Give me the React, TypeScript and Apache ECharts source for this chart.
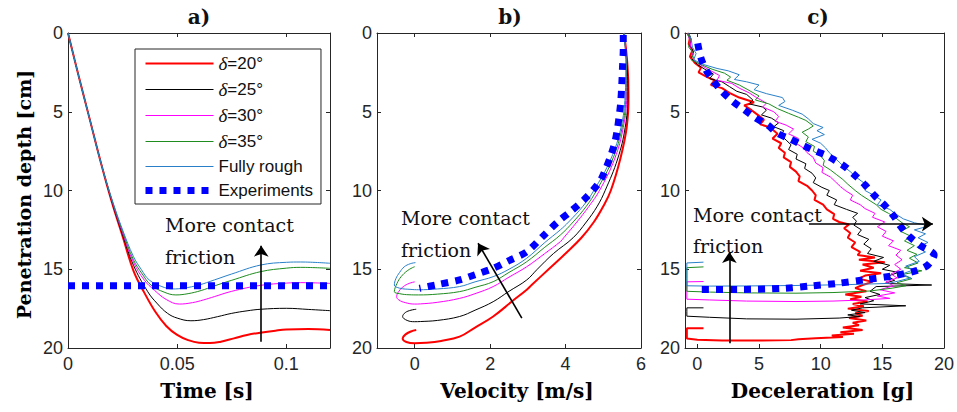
import React, { useEffect, useRef } from 'react';
import * as echarts from 'echarts';

// ---------- Series names ----------
const seriesNames = ['δ=20°', 'δ=25°', 'δ=30°', 'δ=35°', 'Fully rough', 'Experiments'];
const seriesColors = ['#ff0000', '#000000', '#ff00ff', '#1e8c1e', '#2a80c8', '#0000ff'];
const seriesWidths = [2, 1, 1, 1, 1, 7];

// ---------- Panel a: time [s] vs depth [cm] ----------
const timeRed = [[0,0],[0.005,2.8],[0.01,5.5],[0.015,8.2],[0.02,10.7],[0.025,12.9],[0.03,15.1],[0.035,16.5],[0.04,17.7],[0.045,18.6],[0.05,19.17],[0.055,19.5],[0.06,19.67],[0.065,19.69],[0.07,19.6],[0.076,19.39],[0.082,19.17],[0.088,19.03],[0.095,18.9],[0.1,18.83],[0.11,18.8],[0.12,18.86]];
const timeBlack = [[0,0],[0.005,2.8],[0.01,5.5],[0.015,8.2],[0.02,10.65],[0.025,12.8],[0.03,14.75],[0.0365,16.42],[0.041,17.2],[0.0456,17.8],[0.05,18.1],[0.0563,18.27],[0.062,18.2],[0.0685,18.01],[0.075,17.8],[0.082,17.64],[0.0883,17.54],[0.1,17.48],[0.11,17.55],[0.12,17.63]];
const timeMagenta = [[0,0],[0.005,2.8],[0.01,5.5],[0.015,8.2],[0.02,10.6],[0.025,12.7],[0.03,14.55],[0.035,15.7],[0.0395,16.32],[0.045,16.92],[0.051,17.21],[0.057,17.12],[0.062,16.95],[0.067,16.74],[0.075,16.4],[0.0883,16.02],[0.1,15.88],[0.1066,15.85],[0.12,15.9]];
const timeGreen = [[0,0],[0.005,2.8],[0.01,5.5],[0.015,8.2],[0.02,10.55],[0.025,12.6],[0.03,14.4],[0.034,15.3],[0.038,16.0],[0.044,16.45],[0.0494,16.63],[0.055,16.55],[0.061,16.35],[0.067,16.06],[0.075,15.7],[0.0883,15.15],[0.1,14.93],[0.1066,14.88],[0.12,14.94]];
const timeBlue = [[0,0],[0.005,2.8],[0.01,5.5],[0.015,8.2],[0.02,10.5],[0.025,12.5],[0.03,14.2],[0.0335,15.0],[0.0372,15.68],[0.043,16.1],[0.0479,16.25],[0.053,16.2],[0.06,16.0],[0.067,15.68],[0.075,15.3],[0.0883,14.73],[0.1,14.56],[0.1066,14.54],[0.12,14.62]];
const timeExp = [[0,16.05],[0.12,16.05]];

// ---------- Panel b: velocity [m/s] vs depth [cm] ----------
const velRed = [[5.55,0],[5.64,2],[5.67,4],[5.62,6],[5.45,8],[5.2,10],[5.0,11],[4.75,12],[4.42,13],[4.0,14],[3.55,15],[3.1,16],[2.97,16.3],[2.6,17],[2.08,18],[1.6,18.7],[1.19,19.28],[0.7,19.55],[0.3,19.67],[0,19.7],[-0.22,19.62],[-0.32,19.39],[-0.25,19.15],[-0.1,18.95],[0.04,18.86]];
const velBlack = [[5.55,0],[5.63,2],[5.65,4],[5.58,6],[5.38,8],[5.05,10],[4.84,11],[4.55,12],[4.2,13],[3.68,14],[3.25,15],[2.97,15.68],[2.5,16.4],[2.08,17.06],[1.6,17.6],[1.19,18.0],[0.6,18.25],[0.15,18.32],[0,18.33],[-0.2,18.25],[-0.32,18.0],[-0.25,17.75],[-0.1,17.6],[0.04,17.54]];
const velMagenta = [[5.55,0],[5.62,2],[5.62,4],[5.53,6],[5.3,8],[4.9,10],[4.62,11],[4.3,12],[3.95,13],[3.86,13.25],[3.45,14],[2.97,14.84],[2.5,15.5],[2.08,16.1],[1.6,16.55],[1.19,16.85],[0.6,17.1],[0.15,17.2],[0,17.21],[-0.25,17.12],[-0.42,16.95],[-0.48,16.74],[-0.42,16.4],[-0.3,16.1],[-0.15,15.9],[0,15.8]];
const velGreen = [[5.55,0],[5.61,2],[5.6,4],[5.5,6],[5.25,8],[4.82,10],[4.55,11],[4.2,12],[3.86,12.83],[3.45,13.6],[2.97,14.52],[2.5,15.2],[2.08,15.79],[1.6,16.15],[1.19,16.42],[0.6,16.58],[0.1,16.63],[-0.15,16.62],[-0.4,16.55],[-0.54,16.42],[-0.47,15.9],[-0.36,15.47],[-0.2,15.1],[-0.06,14.9],[0,14.84]];
const velBlue = [[5.55,0],[5.6,2],[5.58,4],[5.47,6],[5.2,8],[4.75,10],[4.46,11],[4.08,12],[3.86,12.5],[3.45,13.3],[2.97,14.3],[2.5,15.0],[2.08,15.47],[1.6,15.8],[1.19,16.1],[0.6,16.25],[0.1,16.3],[-0.1,16.28],[-0.4,16.2],[-0.54,16.0],[-0.5,15.6],[-0.4,15.2],[-0.28,14.85],[-0.12,14.65],[0.02,14.58]];
const velExp = [[5.53,0.13],[5.53,1.0],[5.51,2.14],[5.49,3.3],[5.46,4.46],[5.42,5.3],[5.37,6.16],[5.3,7.0],[5.19,7.85],[5.07,8.6],[4.93,9.33],[4.72,10.0],[4.48,10.6],[4.15,11.3],[3.8,11.98],[3.4,12.9],[2.97,13.89],[2.5,14.45],[2.08,14.94],[1.6,15.35],[1.19,15.68],[0.6,15.98],[0.125,16.21]];

// ---------- Panel c: deceleration [g] vs depth [cm] ----------
const decRed = [[-0.8,0],[-0.6,0.3],[-0.7,0.7],[-0.4,1.1],[-0.6,1.5],[-0.2,1.9],[0.3,2.2],[0.1,2.5],[0.8,2.8],[1.4,3.0],[1.1,3.3],[2.0,3.5],[2.6,3.8],[3.4,4.1],[4.6,4.4],[3.8,4.6],[4.4,4.9],[4.9,5.2],[5.4,5.5],[5.1,5.8],[5.9,6.0],[6.5,6.4],[6.1,6.7],[6.8,7.0],[6.6,7.3],[7.1,7.6],[7.0,7.9],[7.6,8.2],[7.5,8.5],[8.0,8.8],[8.3,9.1],[8.2,9.4],[8.9,9.7],[9.3,10.0],[9.6,10.3],[9.5,10.6],[10.2,10.9],[10.5,11.2],[11.1,11.5],[11.0,11.8],[11.5,12.0],[12.3,12.15],[11.9,12.4],[12.4,12.7],[12.2,13.0],[12.8,13.3],[12.5,13.6],[13.2,13.9],[13.0,14.1],[14.4,14.25],[13.1,14.4],[15.2,14.55],[13.4,14.7],[14.3,14.9],[13.2,15.1],[14.9,15.25],[13.6,15.4],[13.1,15.6],[14.2,15.8],[13.4,16.0],[12.8,16.2],[13.7,16.4],[12.0,16.6],[13.3,16.75],[12.4,16.9],[13.8,17.05],[12.6,17.2],[13.5,17.35],[12.2,17.5],[13.9,17.65],[12.8,17.8],[13.4,17.95],[12.3,18.1],[13.7,18.25],[12.6,18.4],[13.1,18.55],[11.8,18.7],[13.4,18.85],[11.6,19.0],[12.7,19.1],[10.9,19.2],[11.8,19.3],[9.6,19.38],[8.2,19.45],[7.6,19.5],[5,19.53],[2,19.52],[0,19.48],[-0.85,19.4],[-0.85,19.0],[-0.85,18.75],[0.5,18.75]];
const decBlack = [[-0.7,0],[-0.5,0.4],[-0.6,0.8],[-0.3,1.2],[-0.5,1.6],[0.0,2.0],[0.6,2.3],[1.3,2.6],[1.0,2.9],[2.0,3.1],[2.6,3.4],[3.2,3.7],[4.0,3.9],[4.5,4.25],[4.2,4.5],[5.3,4.7],[5.6,4.9],[5.2,5.2],[6.0,5.4],[6.6,5.7],[6.2,5.95],[7.0,6.2],[6.8,6.5],[7.2,6.8],[7.6,7.1],[7.4,7.4],[8.1,7.7],[8.0,8.0],[8.8,8.3],[8.7,8.6],[9.3,8.9],[9.6,9.2],[9.4,9.5],[10.1,9.8],[10.7,10.0],[10.5,10.3],[11.3,10.6],[11.1,10.9],[12.1,11.2],[13.0,11.45],[12.6,11.7],[12.9,11.95],[12.7,12.2],[13.3,12.5],[13.0,12.8],[13.9,13.1],[13.5,13.4],[14.1,13.7],[13.8,14.0],[15.1,14.25],[14.3,14.5],[15.6,14.75],[15.0,15.0],[16.3,15.2],[15.4,15.45],[16.0,15.7],[15.2,15.9],[19.0,16.0],[14.5,16.1],[14.0,16.4],[14.8,16.6],[13.6,16.8],[14.3,17.0],[13.2,17.2],[16.9,17.32],[13.4,17.45],[12.5,17.6],[13.6,17.75],[12.2,17.9],[13.2,18.0],[11.5,18.1],[8,18.17],[4,18.15],[1,18.05],[-0.85,17.98],[-0.85,17.7],[-0.85,17.45],[0.5,17.45]];
const decMagenta = [[-0.8,0],[-0.6,0.5],[-0.5,1.0],[-0.4,1.4],[-0.2,1.8],[0.4,2.1],[1.1,2.4],[1.8,2.7],[1.6,3.0],[2.8,3.2],[3.4,3.5],[4.2,3.8],[4.8,4.1],[5.6,4.45],[5.3,4.7],[6.2,5.0],[6.6,5.3],[6.3,5.6],[7.2,5.85],[7.8,6.1],[7.4,6.4],[8.2,6.7],[8.0,7.0],[8.6,7.3],[8.9,7.6],[9.4,7.9],[9.6,8.25],[10.2,8.55],[10.1,8.85],[10.8,9.15],[11.2,9.45],[11.6,9.75],[12.0,10.0],[12.6,10.3],[12.4,10.6],[13.2,10.9],[13.6,11.15],[14.4,11.45],[14.2,11.7],[15.2,12.0],[14.6,12.3],[15.3,12.6],[15.0,12.9],[15.9,13.2],[15.5,13.5],[16.5,13.8],[16.1,14.1],[16.6,14.4],[16.0,14.7],[16.5,15.0],[15.7,15.3],[16.2,15.55],[15.3,15.8],[15.9,16.05],[14.8,16.3],[16.0,16.5],[14.6,16.7],[15.6,16.85],[13.5,16.95],[11,17.02],[8,17.05],[4,17.02],[1,16.95],[-0.85,16.9],[-0.85,16.3],[-0.85,15.8],[0.5,15.78]];
const decGreen = [[-0.8,0],[-0.6,0.4],[-0.7,0.9],[-0.3,1.3],[-0.5,1.7],[0.3,2.0],[1.2,2.3],[2.2,2.55],[2.7,2.8],[2.4,3.0],[3.4,3.3],[4.1,3.6],[5.0,4.0],[4.7,4.25],[5.8,4.5],[6.5,4.8],[7.4,5.1],[8.2,5.35],[8.8,5.55],[9.4,5.9],[9.0,6.1],[8.5,6.3],[9.0,6.6],[8.8,6.9],[9.5,7.2],[9.4,7.5],[10.0,7.8],[10.3,8.1],[10.2,8.4],[10.8,8.7],[11.3,9.0],[11.8,9.3],[12.2,9.6],[12.8,10.0],[13.3,10.3],[13.9,10.6],[14.5,10.9],[14.9,11.2],[15.5,11.45],[16.1,11.75],[16.6,12.05],[17.2,12.3],[16.5,12.6],[17.3,12.9],[16.8,13.2],[17.6,13.5],[17.0,13.8],[17.8,14.05],[17.2,14.3],[17.9,14.6],[16.8,14.9],[18.2,15.1],[16.5,15.35],[17.4,15.6],[16.2,15.85],[16.9,16.05],[15.8,16.2],[14,16.38],[11,16.48],[8,16.52],[4,16.5],[1,16.45],[-0.85,16.4],[-0.85,15.6],[-0.85,14.9],[0.5,14.85]];
const decBlue = [[-0.7,0],[-0.5,0.4],[-0.4,0.9],[-0.1,1.3],[-0.3,1.7],[0.5,2.0],[1.6,2.25],[2.5,2.4],[3.4,2.65],[3.0,2.95],[4.0,3.1],[5.0,3.3],[4.6,3.6],[5.6,3.85],[6.9,4.1],[7.1,4.35],[6.6,4.6],[7.7,4.9],[8.5,5.15],[9.0,5.45],[9.4,5.75],[10.2,6.0],[9.7,6.2],[10.3,6.45],[9.3,6.75],[10.0,7.0],[10.4,7.3],[10.7,7.6],[11.1,7.9],[11.5,8.2],[11.9,8.5],[12.4,8.8],[12.8,9.1],[13.3,9.4],[13.8,9.7],[13.6,10.0],[14.3,10.3],[14.9,10.6],[14.6,10.9],[15.6,11.2],[16.1,11.5],[16.7,11.8],[17.6,12.05],[18.8,12.25],[17.6,12.5],[18.5,12.75],[17.9,13.0],[18.7,13.3],[17.8,13.6],[18.5,13.9],[17.6,14.2],[18.0,14.5],[16.9,14.8],[17.5,15.05],[16.6,15.3],[17.3,15.55],[16.3,15.75],[15.5,15.9],[12,15.98],[8,16.03],[4,16.06],[1,16.07],[-0.85,16.05],[-0.85,15.3],[-0.85,14.6],[0.5,14.55]];
const decExp = [[0.03,0.66],[0.3,1.6],[0.75,2.41],[1.34,3.09],[2.01,3.72],[2.9,4.36],[3.83,4.89],[4.77,5.42],[5.7,5.84],[6.5,6.37],[7.5,6.72],[8.6,7.15],[9.6,7.5],[10.4,7.75],[11.1,8.06],[11.9,8.45],[12.8,9.05],[13.6,9.65],[14.4,10.35],[15.2,10.95],[15.9,11.6],[16.5,12.3],[17.2,12.93],[18.1,13.5],[19.2,14.1],[18.7,14.73],[17.75,15.09],[15.74,15.43],[13.47,15.68],[11.33,15.9],[9.19,16.06],[7.04,16.21],[3.7,16.28],[0.35,16.28]];

// ---------- Axis ticks ----------
const timeTicks = [0, 0.05, 0.1];
const velTicks = [0, 2, 4, 6];
const decTicks = [0, 5, 10, 15, 20];

// ---------- Annotation arrows (data coords) ----------
const arrowA = [[0.0885, 19.6], [0.0885, 13.5]];
const arrowB = [[2.84, 18.1], [1.68, 13.35]];
const arrowC1 = [[9.05, 12.13], [19.1, 12.13]];
const arrowC2 = [[2.6, 19.7], [2.6, 13.9]];

const AX = '#262626';
const tickFont = 'Liberation Sans, Arial, sans-serif';
const serif = 'DejaVu Serif, serif';

function xAxis(grid: number, min: number, max: number, ticks: number[], name: string, top = false) {
  return {
    type: 'value', gridIndex: grid, min, max, position: top ? 'top' : 'bottom',
    name: top ? '' : name, nameLocation: 'middle', nameGap: 33,
    nameTextStyle: { fontFamily: serif, fontWeight: 'bold', fontSize: 20, color: '#000', padding: [0, 0, 0, 16] },
    axisLine: { onZero: false, lineStyle: { color: AX, width: 1 } },
    axisTick: { inside: true, length: 4, customValues: ticks, lineStyle: { color: AX } },
    axisLabel: { show: !top, customValues: ticks, color: AX, fontSize: 18, fontFamily: tickFont, margin: 7 },
    splitLine: { show: false },
  };
}
function yAxis(grid: number, name: string, right = false) {
  return {
    type: 'value', gridIndex: grid, min: 0, max: 20, interval: 5, inverse: true,
    position: right ? 'right' : 'left',
    name: right ? '' : name, nameLocation: 'middle', nameGap: 35,
    nameTextStyle: { fontFamily: serif, fontWeight: 'bold', fontSize: 19, color: '#000', padding: [0, 8, 0, 0] },
    axisLine: { onZero: false, lineStyle: { color: AX, width: 1 } },
    axisTick: { inside: true, length: 4, lineStyle: { color: AX } },
    axisLabel: { show: !right, color: AX, fontSize: 18, fontFamily: tickFont, margin: 5 },
    splitLine: { show: false },
  };
}

function arrowLine(pairs: number[][][]) {
  return {
    silent: true,
    symbol: ['none', 'arrow'],
    symbolSize: 11,
    label: { show: false },
    emphasis: { disabled: true },
    lineStyle: { color: '#000', width: 1.6, type: 'solid' },
    data: pairs.map((p) => [{ coord: p[0] }, { coord: p[1] }]),
  };
}

function line(idx: number, data: number[][], grid: number, smooth: number | boolean, markLine?: any) {
  const isExp = idx === 5;
  const s: any = {
    type: 'line', name: seriesNames[idx], data, xAxisIndex: grid, yAxisIndex: grid,
    showSymbol: false, symbol: 'none', smooth, clip: true,
    lineStyle: { color: seriesColors[idx], width: seriesWidths[idx], type: isExp ? [7, 7] : 'solid', cap: 'butt' },
    itemStyle: { color: seriesColors[idx] },
    emphasis: { disabled: true },
  };
  if (markLine) s.markLine = markLine;
  return s;
}

function textEl(text: string, x: number, y: number, size: number, bold = false, align = 'left') {
  return {
    type: 'text', x, y, silent: true,
    style: { text, fontSize: size, fontFamily: serif, fontWeight: bold ? 'bold' : 'normal', fill: '#111', textAlign: align, textVerticalAlign: 'middle' },
  };
}

const legendData = seriesNames.map((name, i) => ({
  name,
  itemStyle: { color: 'rgba(0,0,0,0)', borderWidth: 0, opacity: 0 },
  lineStyle: {
    color: seriesColors[i],
    width: i === 5 ? 7 : seriesWidths[i],
    type: i === 5 ? [7, 7] : 'solid',
    cap: 'butt',
    opacity: 1,
  },
}));

export default function App() {
  const ref = useRef<HTMLDivElement>(null);
  useEffect(() => {
    document.body.style.margin = '0';
    const chart = echarts.init(ref.current!, undefined, { renderer: 'svg' });
    const option: any = {
      animation: false,
      backgroundColor: '#fff',
      grid: [
        { left: 68, top: 33, width: 262, height: 315 },
        { left: 377, top: 33, width: 264, height: 315 },
        { left: 685, top: 33, width: 261, height: 315 },
      ],
      xAxis: [
        xAxis(0, 0, 0.12, timeTicks, 'Time [s]'),
        xAxis(1, -1, 6, velTicks, 'Velocity [m/s]'),
        xAxis(2, -1, 20, decTicks, 'Deceleration [g]'),
        xAxis(0, 0, 0.12, timeTicks, '', true),
        xAxis(1, -1, 6, velTicks, '', true),
        xAxis(2, -1, 20, decTicks, '', true),
      ],
      yAxis: [
        yAxis(0, 'Penetration depth [cm]'),
        yAxis(1, ''),
        yAxis(2, ''),
        yAxis(0, '', true),
        yAxis(1, '', true),
        yAxis(2, '', true),
      ],
      legend: {
        data: legendData,
        orient: 'vertical',
        left: 135, top: 49,
        padding: [5, 8, 5, 7],
        itemWidth: 68, itemHeight: 14, itemGap: 7,
        selectedMode: false,
        backgroundColor: '#fff',
        borderColor: AX, borderWidth: 1, borderRadius: 0,
        formatter: (name: string) => name.startsWith('δ') ? `{i|δ}{n|${name.slice(1)}}` : `{n|${name}}`,
        textStyle: {
          color: '#111',
          rich: {
            i: { fontFamily: 'Liberation Serif, serif', fontStyle: 'italic', fontSize: 19, color: '#111' },
            n: { fontFamily: tickFont, fontSize: 17, color: '#111' },
          },
        },
      },
      graphic: [
        textEl('a)', 199, 17, 20, true, 'center'),
        textEl('b)', 510, 17, 20, true, 'center'),
        textEl('c)', 818, 17, 20, true, 'center'),
        textEl('More contact', 165, 225, 19),
        textEl('friction', 165, 257, 19),
        textEl('More contact', 401, 218, 19),
        textEl('friction', 401, 250, 19),
        textEl('More contact', 693, 215, 19),
        textEl('friction', 693, 246, 19),
      ],
      series: [
        line(0, timeRed, 0, 0.4),
        line(1, timeBlack, 0, 0.4),
        line(2, timeMagenta, 0, 0.4),
        line(3, timeGreen, 0, 0.4),
        line(4, timeBlue, 0, 0.4),
        line(5, timeExp, 0, false, arrowLine([arrowA])),
        line(0, velRed, 1, 0.4),
        line(1, velBlack, 1, 0.4),
        line(2, velMagenta, 1, 0.4),
        line(3, velGreen, 1, 0.4),
        line(4, velBlue, 1, 0.4),
        line(5, velExp, 1, 0.3, arrowLine([arrowB])),
        line(0, decRed, 2, false),
        line(1, decBlack, 2, false),
        line(2, decMagenta, 2, false),
        line(3, decGreen, 2, false),
        line(4, decBlue, 2, false),
        line(5, decExp, 2, 0.3, arrowLine([arrowC1, arrowC2])),
      ],
    };
    chart.setOption(option);
    return () => chart.dispose();
  }, []);
  return <div ref={ref} style={{ width: 957, height: 412 }} />;
}
